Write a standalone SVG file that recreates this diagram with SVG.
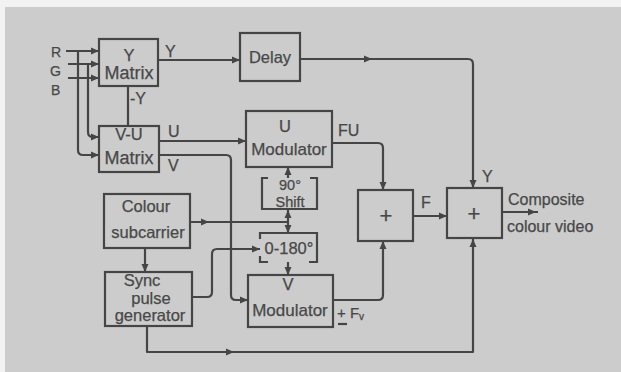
<svg xmlns="http://www.w3.org/2000/svg" xmlns:xlink="http://www.w3.org/1999/xlink" width="621" height="372" viewBox="0 0 621 372">
<style>
.bx{fill:none;stroke:#454545;stroke-width:2.2}
.ln{fill:none;stroke:#454545;stroke-width:2.2;stroke-linejoin:round}
.t{font-family:"Liberation Sans",Arial,sans-serif;font-size:16.5px;fill:#484848;stroke:#484848;stroke-width:0.25;text-anchor:middle}
.l{font-family:"Liberation Sans",Arial,sans-serif;font-size:16px;fill:#484848;stroke:#484848;stroke-width:0.25}
.ah{fill:#454545}
</style>
<defs>
<path id="ah" d="M0,0 L-8,-3.5 L-8,3.5 Z"/>
</defs>
<rect x="0" y="0" width="621" height="372" fill="#f2f2f2"/>
<rect x="5" y="7" width="616" height="365" fill="#cccccc"/>

<g id="connectors">
  <path class="ln" d="M66,51 H99 M68,64 H99 M68,78 H99"/>
  <use class="ah" href="#ah" transform="translate(99,51)"/>
  <use class="ah" href="#ah" transform="translate(99,64)"/>
  <use class="ah" href="#ah" transform="translate(99,78)"/>
  <path class="ln" d="M78,51 V150 Q78,155 83,155 H99"/>
  <path class="ln" d="M88,64 V132 Q88,137 93,137 H99"/>
  <use class="ah" href="#ah" transform="translate(99,155)"/>
  <use class="ah" href="#ah" transform="translate(99,137)"/>
  <path class="ln" d="M128,86 V126"/>
  <path class="ln" d="M158,60 H240"/>
  <use class="ah" href="#ah" transform="translate(240,60)"/>
  <path class="ln" d="M300,59 H468 Q473,59 473,64 V188"/>
  <use class="ah" href="#ah" transform="translate(372,59)"/>
  <use class="ah" href="#ah" transform="translate(473,188) rotate(90)"/>
  <path class="ln" d="M159,141 H246"/>
  <use class="ah" href="#ah" transform="translate(246,141)"/>
  <path class="ln" d="M159,155 H226 Q231,155 231,160 V295 Q231,300 236,300 H248"/>
  <use class="ah" href="#ah" transform="translate(248,300)"/>
  <path class="ln" d="M332,143 H378 Q383,143 383,148 V190"/>
  <use class="ah" href="#ah" transform="translate(383,190) rotate(90)"/>
  <path class="ln" d="M413,216 H447"/>
  <use class="ah" href="#ah" transform="translate(447,216)"/>
  <path class="ln" d="M502,212 H538"/>
  <use class="ah" href="#ah" transform="translate(536,212)"/>
  <path class="ln" d="M190,222 H288"/>
  <use class="ah" href="#ah" transform="translate(209,222)"/>
  <path class="ln" d="M288,222 V209 M288,178 V167 M288,222 V233 M288,262 V275"/>
  <use class="ah" href="#ah" transform="translate(288,210) rotate(-90)"/>
  <use class="ah" href="#ah" transform="translate(288,167) rotate(-90)"/>
  <use class="ah" href="#ah" transform="translate(288,233) rotate(90)"/>
  <use class="ah" href="#ah" transform="translate(288,275) rotate(90)"/>
  <path class="ln" d="M145,248 V272"/>
  <use class="ah" href="#ah" transform="translate(145,272) rotate(90)"/>
  <path class="ln" d="M192,297 H207 Q212,297 212,292 V254 Q212,249 217,249 H260"/>
  <use class="ah" href="#ah" transform="translate(260,249)"/>
  <path class="ln" d="M147,326 V352 H473 V238"/>
  <use class="ah" href="#ah" transform="translate(234,352)"/>
  <use class="ah" href="#ah" transform="translate(473,239) rotate(-90)"/>
  <path class="ln" d="M333,300 H378 Q383,300 383,295 V241"/>
  <use class="ah" href="#ah" transform="translate(383,241) rotate(-90)"/>
</g>

<g id="labels">
  <text class="l" x="51" y="57" style="font-size:14px">R</text>
  <text class="l" x="50" y="76" style="font-size:14px">G</text>
  <text class="l" x="51" y="95" style="font-size:14px">B</text>
  <text class="l" x="165" y="57">Y</text>
  <text class="l" x="130" y="104">-Y</text>
  <text class="l" x="168" y="137">U</text>
  <text class="l" x="168" y="171">V</text>
  <text class="l" x="338" y="136">FU</text>
  <text class="l" x="421" y="208">F</text>
  <text class="l" x="482" y="182">Y</text>
  <text class="l" x="337" y="318" style="font-size:15px">+ F<tspan font-size="10" dy="2">v</tspan></text>
  <path class="ln" d="M338,324 H347"/>
  <text class="l" x="508" y="205">Composite</text>
  <text class="l" x="507" y="232">colour video</text>
</g>

<g id="ymatrix">
  <rect class="bx" x="99" y="39" width="59" height="47"/>
  <text class="t" x="129" y="61">Y</text>
  <text class="t" x="129" y="79" style="font-size:18px">Matrix</text>
</g>
<g id="vumatrix">
  <rect class="bx" x="99" y="126" width="60" height="46"/>
  <text class="t" x="129" y="140">V-U</text>
  <text class="t" x="129" y="164" style="font-size:18px">Matrix</text>
</g>
<g id="delay">
  <rect class="bx" x="240" y="33" width="60" height="48"/>
  <text class="t" x="270" y="63">Delay</text>
</g>
<g id="umod">
  <rect class="bx" x="246" y="111" width="86" height="56"/>
  <text class="t" x="285" y="132">U</text>
  <text class="t" x="289" y="155" style="font-size:17px">Modulator</text>
</g>
<g id="shift90">
  <path class="bx" d="M268,178 H262 V209 H317 V178 H310"/>
  <text class="t" x="290" y="190" style="font-size:14.5px">90°</text>
  <text class="t" x="290" y="207" style="font-size:14.5px">Shift</text>
</g>
<g id="phase0180">
  <path class="bx" d="M260,239 V233 H317 V262 H309 M268,262 H260 V256"/>
  <text class="t" x="289" y="254">0-180°</text>
</g>
<g id="vmod">
  <rect class="bx" x="248" y="275" width="85" height="52"/>
  <text class="t" x="288" y="290">V</text>
  <text class="t" x="290" y="316" style="font-size:17px">Modulator</text>
</g>
<g id="subcarrier">
  <rect class="bx" x="104" y="194" width="86" height="54"/>
  <text class="t" x="146" y="212">Colour</text>
  <text class="t" x="148" y="238">subcarrier</text>
</g>
<g id="sync">
  <rect class="bx" x="105" y="272" width="87" height="54"/>
  <text class="t" x="142" y="286">Sync</text>
  <text class="t" x="151" y="304">pulse</text>
  <text class="t" x="150" y="321">generator</text>
</g>
<g id="adder1">
  <rect class="bx" x="358" y="190" width="55" height="51"/>
  <text class="t" x="386" y="223" style="font-size:22px">+</text>
</g>
<g id="adder2">
  <rect class="bx" x="447" y="188" width="55" height="50"/>
  <text class="t" x="474" y="221" style="font-size:22px">+</text>
</g>
</svg>
